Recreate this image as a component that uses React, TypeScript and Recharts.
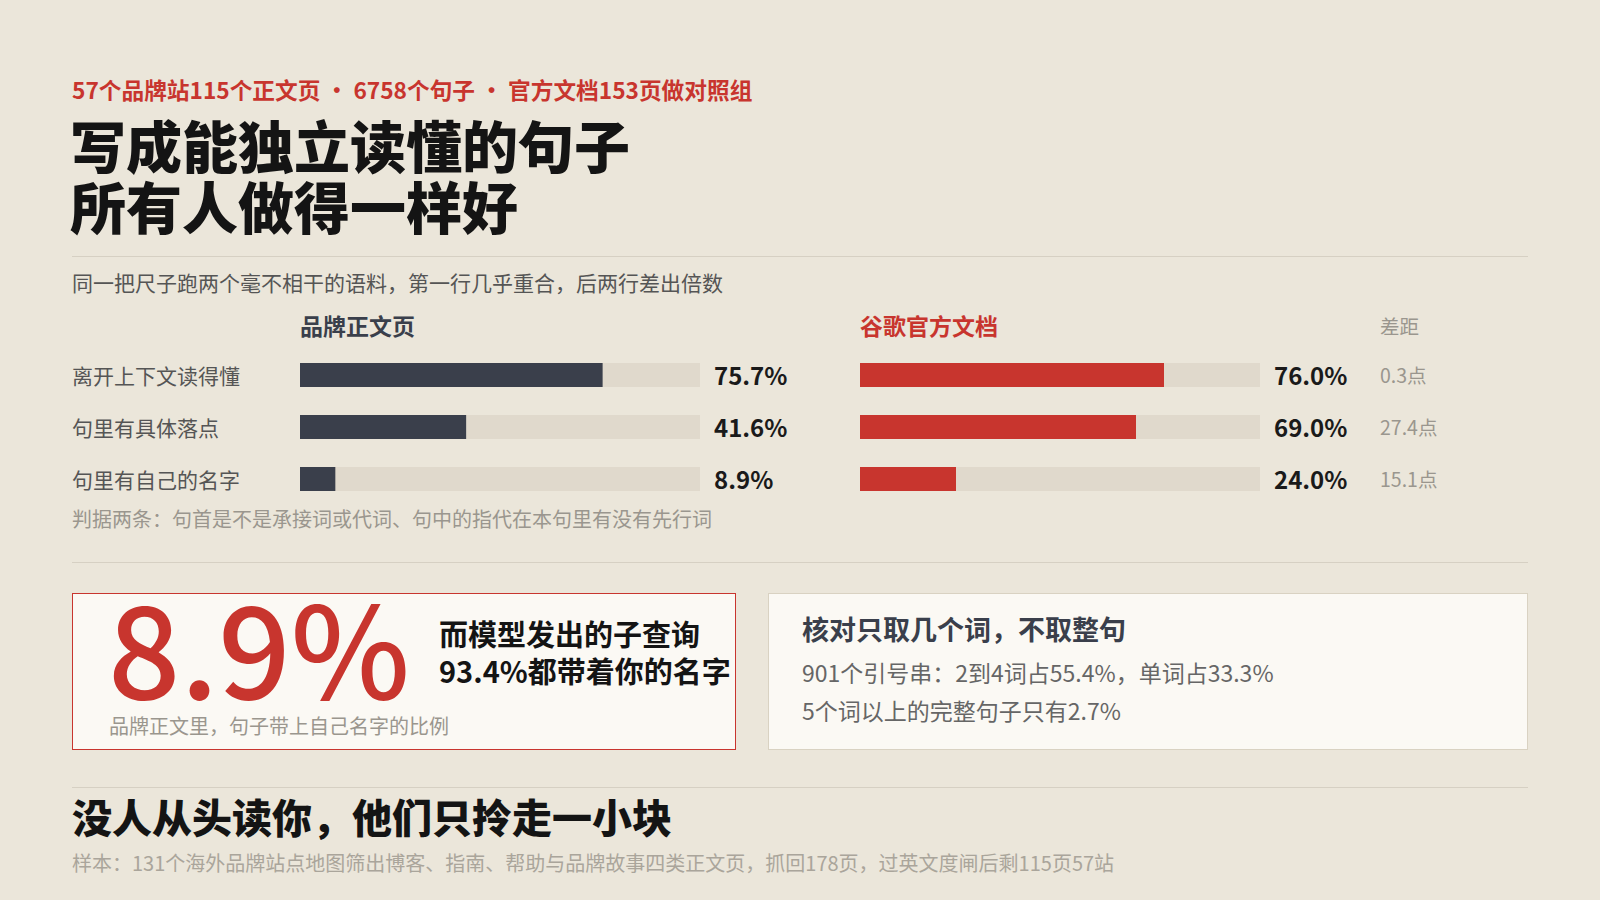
import React from "react";
import { Bar, BarChart, LabelList, XAxis, YAxis } from "recharts";

const rowLabels = ["离开上下文读得懂", "句里有具体落点", "句里有自己的名字"];
const brandValues = [75.7, 41.6, 8.9];
const googleValues = [76.0, 69.0, 24.0];
const gapValues = [0.3, 27.4, 15.1];

const BG = "#ebe6da";
const TRACK = "#e0d9cc";
const DARK = "#3a3f4b";
const RED = "#c8352e";
const FONT = '"Noto Sans CJK SC", "Noto Sans", sans-serif';

const brandData = rowLabels.map((label, i) => ({
  label,
  value: brandValues[i],
  rest: 100 - brandValues[i],
}));

const googleData = rowLabels.map((label, i) => ({
  label,
  value: googleValues[i],
  rest: 100 - googleValues[i],
  gap: gapValues[i],
}));

const RowTick = (props: any) => {
  const { y, payload } = props;
  return (
    <text x={0} y={y} dominantBaseline="central" textAnchor="start" fontSize={21} fill="#555" fontFamily={FONT}>
      {payload.value}
    </text>
  );
};

// value after the track end, plus gap column on the right panel
const makeValueLabel = (data: any[], showGap: boolean) => (props: any) => {
  const { x, y, width, height, index } = props;
  const row = data[index];
  const cy = y + height / 2 - 1;
  const endX = x + width;
  return (
    <g>
      <text x={endX + 14} y={cy} dominantBaseline="central" fontSize={24} fontWeight={700} fill="#1a1a1a" fontFamily={FONT}>
        {row.value.toFixed(1)}%
      </text>
      {showGap && (
        <text x={endX + 120} y={cy} dominantBaseline="central" fontSize={19.5} fill="#9a968e" fontFamily={FONT}>
          {row.gap.toFixed(1)}点
        </text>
      )}
    </g>
  );
};

const txt = (top: number, left: number, size: number, color: string, weight: number, text: React.ReactNode, extra: any = {}) => (
  <div
    style={{
      position: "absolute",
      top,
      left,
      fontSize: size,
      color,
      fontWeight: weight,
      lineHeight: 1,
      whiteSpace: "nowrap",
      ...extra,
    }}
  >
    {text}
  </div>
);

const rule = (top: number) => (
  <div style={{ position: "absolute", top, left: 72, width: 1456, height: 1, background: "#d6d0c3" }} />
);

export default function App() {
  return (
    <div
      style={{
        position: "absolute",
        top: 0,
        left: 0,
        width: 1600,
        height: 900,
        background: BG,
        fontFamily: FONT,
        overflow: "hidden",
      }}
    >
      {txt(79, 72, 22.7, RED, 700, "57个品牌站115个正文页 · 6758个句子 · 官方文档153页做对照组")}
      {txt(116, 70, 56, "#141414", 900, "写成能独立读懂的句子")}
      {txt(177, 70, 56, "#141414", 900, "所有人做得一样好")}
      {rule(256)}
      {txt(272, 72, 21, "#555", 400, "同一把尺子跑两个毫不相干的语料，第一行几乎重合，后两行差出倍数")}
      {txt(314, 300, 23, DARK, 700, "品牌正文页")}
      {txt(314, 860, 23, RED, 700, "谷歌官方文档")}
      {txt(316, 1380, 19.5, "#9a968e", 400, "差距")}

      <div style={{ position: "absolute", top: 349, left: 72 }}>
        <BarChart
          width={760}
          height={156}
          data={brandData}
          layout="vertical"
          margin={{ top: 0, right: 132, bottom: 0, left: 0 }}
          barCategoryGap={0}
        >
          <XAxis type="number" domain={[0, 100]} hide />
          <YAxis type="category" dataKey="label" width={228} axisLine={false} tickLine={false} tick={<RowTick />} />
          <Bar dataKey="value" stackId="a" fill={DARK} barSize={24} isAnimationActive={false} />
          <Bar dataKey="rest" stackId="a" fill={TRACK} barSize={24} isAnimationActive={false}>
            <LabelList dataKey="rest" content={makeValueLabel(brandData, false)} />
          </Bar>
        </BarChart>
      </div>

      <div style={{ position: "absolute", top: 349, left: 860 }}>
        <BarChart
          width={600}
          height={156}
          data={googleData}
          layout="vertical"
          margin={{ top: 0, right: 200, bottom: 0, left: 0 }}
          barCategoryGap={0}
        >
          <XAxis type="number" domain={[0, 100]} hide />
          <YAxis type="category" dataKey="label" hide />
          <Bar dataKey="value" stackId="a" fill={RED} barSize={24} isAnimationActive={false} />
          <Bar dataKey="rest" stackId="a" fill={TRACK} barSize={24} isAnimationActive={false}>
            <LabelList dataKey="rest" content={makeValueLabel(googleData, true)} />
          </Bar>
        </BarChart>
      </div>

      {txt(509, 72, 20, "#9a968e", 400, "判据两条：句首是不是承接词或代词、句中的指代在本句里有没有先行词")}
      {rule(562)}

      <div
        style={{
          position: "absolute",
          top: 593,
          left: 72,
          width: 662,
          height: 155,
          background: "#fbf9f4",
          border: `1px solid ${RED}`,
        }}
      />
      {txt(581, 108, 127, RED, 500, "8.9%")}
      {txt(619, 439, 29, "#141414", 700, "而模型发出的子查询")}
      {txt(656, 439, 29, "#141414", 700, "93.4%都带着你的名字")}
      {txt(716, 109, 20, "#9a968e", 400, "品牌正文里，句子带上自己名字的比例")}

      <div
        style={{
          position: "absolute",
          top: 593,
          left: 768,
          width: 758,
          height: 155,
          background: "#fbf9f4",
          border: "1px solid #d9d2c2",
        }}
      />
      {txt(615, 802, 27, DARK, 700, "核对只取几个词，不取整句")}
      {txt(661, 802, 23, "#666", 400, "901个引号串：2到4词占55.4%，单词占33.3%")}
      {txt(699, 802, 23, "#666", 400, "5个词以上的完整句子只有2.7%")}

      {rule(787)}
      {txt(796, 72, 40, "#141414", 900, "没人从头读你，他们只拎走一小块")}
      {txt(853, 72, 20, "#aaa59b", 400, "样本：131个海外品牌站点地图筛出博客、指南、帮助与品牌故事四类正文页，抓回178页，过英文度闸后剩115页57站")}
    </div>
  );
}
